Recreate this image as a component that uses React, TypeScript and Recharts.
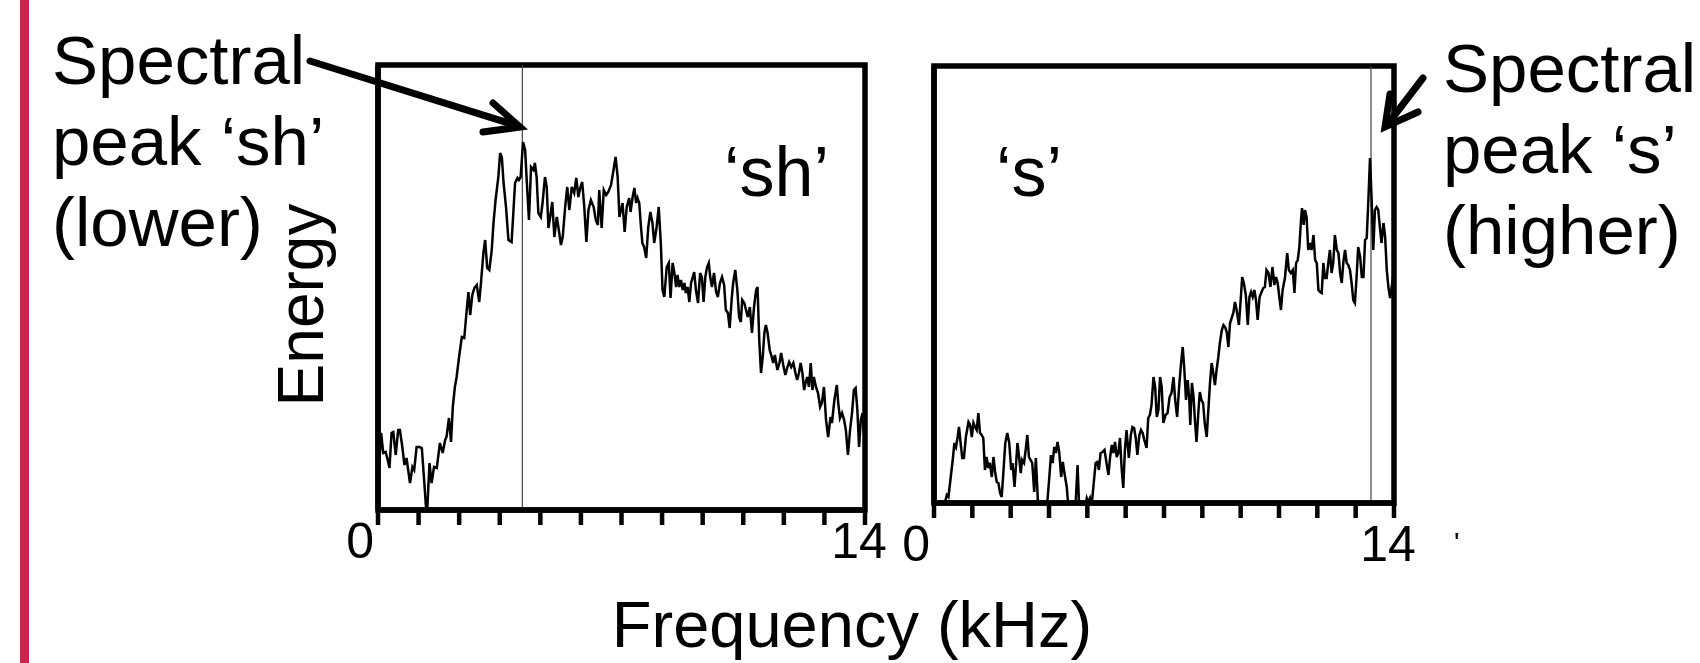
import React from "react";
import {
  LineChart,
  Line,
  XAxis,
  YAxis,
  ReferenceLine,
  ReferenceArea,
} from "recharts";

const FONT = '"Liberation Sans", Arial, Helvetica, sans-serif';

// x ticks: 12 equal steps across 0..14 kHz, only the ends are labelled
const X_TICKS = [0, 1.1667, 2.3333, 3.5, 4.6667, 5.8333, 7, 8.1667, 9.3333, 10.5, 11.6667, 12.8333, 14];
const X_LABELS: Record<number, string> = { 0: "0", 14: "14" };

// 'sh' spectrum (kHz, energy in arbitrary units)
const SH_FREQ = [
  0, 0.09, 0.15, 0.22, 0.28, 0.33, 0.39, 0.44, 0.51, 0.58, 0.63, 0.7, 0.76, 0.82, 0.92, 0.99, 1.04, 1.11, 1.19, 1.26,
  1.32, 1.38, 1.42, 1.48, 1.54, 1.61, 1.69, 1.78, 1.86, 1.93, 1.97, 2.04, 2.1, 2.15, 2.21, 2.26, 2.33, 2.41, 2.48, 2.55,
  2.6, 2.65, 2.71, 2.77, 2.84, 2.91, 2.96, 3.03, 3.08, 3.14, 3.2, 3.27, 3.32, 3.38, 3.46, 3.51, 3.56, 3.61, 3.68, 3.75,
  3.84, 3.89, 3.94, 4.01, 4.05, 4.1, 4.17, 4.23, 4.27, 4.34, 4.4, 4.47, 4.51, 4.56, 4.61, 4.68, 4.73, 4.8, 4.85, 4.9,
  4.95, 5.01, 5.07, 5.14, 5.19, 5.26, 5.31, 5.38, 5.44, 5.5, 5.57, 5.64, 5.7, 5.76, 5.82, 5.87, 5.93, 5.99, 6.05, 6.12,
  6.2, 6.26, 6.32, 6.36, 6.43, 6.49, 6.56, 6.62, 6.7, 6.78, 6.83, 6.89, 6.94,
  7.03, 7.09, 7.15, 7.22, 7.26, 7.32, 7.37, 7.42, 7.46, 7.51, 7.56, 7.6, 7.65, 7.71, 7.77, 7.83, 7.89, 7.94, 8.01, 8.07,
  8.13, 8.18, 8.23, 8.3, 8.36, 8.41, 8.47, 8.52, 8.57, 8.61, 8.66, 8.71, 8.76, 8.81, 8.85, 8.9, 8.95, 9.0, 9.05, 9.09,
  9.14, 9.2, 9.26, 9.31, 9.36, 9.41, 9.46, 9.51, 9.55, 9.6, 9.66, 9.72, 9.77, 9.83, 9.89, 9.95, 10.0, 10.06, 10.11, 10.17,
  10.21, 10.27, 10.33, 10.38, 10.43, 10.47, 10.53, 10.58, 10.63, 10.69, 10.75, 10.81, 10.87, 10.91, 10.96, 11.01, 11.06, 11.11, 11.15, 11.2,
  11.26, 11.32, 11.36, 11.41, 11.48, 11.54, 11.59, 11.65, 11.71, 11.77, 11.82, 11.88, 11.94, 12.0, 12.05, 12.1, 12.15, 12.2, 12.25, 12.29,
  12.34, 12.39, 12.44, 12.49, 12.53, 12.59, 12.65, 12.71, 12.76, 12.82, 12.88, 12.94, 13.01, 13.05, 13.12, 13.19, 13.23, 13.28, 13.34, 13.4,
  13.45, 13.51, 13.57, 13.63, 13.68, 13.73, 13.78, 13.83, 13.88, 13.93, 13.97,
];
const SH_ENERGY = [
  2.7, 7.7, 5.7, 5.8, 5.0, 4.2, 7.7, 7.8, 5.5, 8.0, 8.0, 6.3, 4.5, 5.2, 2.7, 4.3, 4.0, 6.3, 6.3, 6.2,
  3.3, 0.3, 0.3, 4.7, 2.7, 4.3, 4.2, 6.7, 5.7, 7.0, 7.3, 9.2, 6.8, 10.3, 12.3, 13.3, 15.3, 17.3, 17.2, 20.0,
  21.8, 19.5, 21.5, 22.2, 22.5, 20.8, 22.7, 25.7, 27.0, 24.2, 24.0, 26.0, 28.7, 31.0, 33.3, 35.7, 35.3, 32.7, 30.3, 27.0,
  26.8, 29.7, 32.7, 33.2, 33.0, 33.3, 36.8, 36.0, 33.3, 29.0, 34.3, 34.0, 34.7, 33.3, 29.7, 29.3, 30.7, 33.3, 32.3, 28.2,
  29.3, 30.8, 27.3, 29.3, 28.2, 26.5, 27.3, 30.3, 32.3, 30.0, 32.3, 31.7, 33.2, 31.3, 32.3, 32.8, 30.3, 26.8, 30.0, 31.0,
  30.3, 29.0, 28.5, 32.0, 28.2, 32.0, 31.5, 31.8, 32.5, 34.2, 35.3, 33.3, 29.3,
  30.7, 27.8, 30.3, 31.2, 29.8, 31.3, 32.2, 30.7, 31.2, 30.7, 28.3, 26.7, 26.3, 25.2, 28.3, 29.8, 28.7, 26.7, 28.3, 30.3,
  26.7, 22.0, 21.3, 24.3, 24.7, 21.2, 24.7, 23.7, 22.3, 23.5, 22.3, 23.0, 22.0, 22.7, 21.7, 22.3, 20.8, 22.7, 23.3, 23.8,
  22.0, 20.7, 23.7, 23.3, 20.8, 23.3, 24.3, 24.7, 23.3, 22.3, 23.7, 21.8, 21.3, 22.7, 23.3, 22.5, 20.0, 19.7, 18.2, 21.2,
  22.7, 24.0, 22.0, 19.3, 18.8, 21.0, 20.7, 20.0, 19.3, 20.3, 17.7, 20.3, 22.0, 22.3, 17.0, 13.7, 15.3, 17.8, 18.5, 17.7,
  16.0, 15.3, 14.7, 15.5, 14.0, 14.7, 15.7, 14.5, 13.5, 14.3, 14.8, 14.3, 14.7, 13.7, 13.0, 13.7, 14.7, 13.7, 12.0, 12.7,
  13.3, 12.3, 14.7, 12.0, 13.3, 12.3, 11.7, 10.3, 10.7, 12.3, 9.0, 7.3, 9.3, 8.7, 11.0, 12.5, 10.7, 9.2, 9.7, 9.0,
  8.0, 5.5, 8.0, 9.8, 12.0, 12.2, 10.0, 6.3, 9.0, 9.7, 7.7,
];

// 's' spectrum
const S_FREQ = [
  0, 0.33, 0.39, 0.44, 0.51, 0.57, 0.62, 0.67, 0.72, 0.76, 0.81, 0.86, 0.91, 0.97, 1.05, 1.1, 1.15, 1.2, 1.25, 1.3,
  1.35, 1.4, 1.45, 1.5, 1.55, 1.6, 1.65, 1.7, 1.76, 1.81, 1.86, 1.91, 1.96, 2.01, 2.06, 2.11, 2.17, 2.23, 2.29, 2.35,
  2.39, 2.45, 2.5, 2.54, 2.59, 2.64, 2.68, 2.74, 2.79, 2.84, 2.89, 2.94, 2.99, 3.05, 3.1, 3.16, 3.21, 3.43, 3.51, 3.56,
  3.61, 3.66, 3.71, 3.76, 3.81, 3.87, 3.92, 3.97, 4.04, 4.09, 4.3, 4.37, 4.42, 4.6, 4.65, 4.7, 4.75, 4.8, 4.85, 4.92,
  4.97, 5.02, 5.07, 5.13, 5.19, 5.26, 5.31, 5.36, 5.41, 5.46, 5.51, 5.56, 5.61, 5.66, 5.71, 5.76, 5.81, 5.86, 5.93, 5.99,
  6.04, 6.09, 6.14, 6.19, 6.25, 6.3, 6.35, 6.4, 6.47, 6.52, 6.57, 6.62, 6.68, 6.73, 6.78, 6.83, 6.88, 6.93, 6.98,
  7.05, 7.11, 7.17, 7.23, 7.29, 7.34, 7.4, 7.46, 7.52, 7.57, 7.62, 7.67, 7.72, 7.77, 7.8, 7.85, 7.9, 7.94, 7.99, 8.05,
  8.09, 8.14, 8.19, 8.24, 8.3, 8.35, 8.4, 8.45, 8.5, 8.55, 8.6, 8.65, 8.7, 8.76, 8.81, 8.86, 8.91, 8.96, 9.01, 9.06,
  9.11, 9.16, 9.21, 9.28, 9.34, 9.38, 9.43, 9.49, 9.55, 9.6, 9.65, 9.7, 9.75, 9.8, 9.85, 9.91, 9.97, 10.02, 10.07, 10.12,
  10.18, 10.24, 10.3, 10.36, 10.41, 10.46, 10.51, 10.56, 10.61, 10.68, 10.75, 10.8, 10.86, 10.92, 10.97, 11.02, 11.07, 11.12, 11.17, 11.2,
  11.25, 11.29, 11.34, 11.39, 11.44, 11.49, 11.55, 11.6, 11.65, 11.7, 11.75, 11.8, 11.85, 11.9, 11.95, 12.0, 12.05, 12.1, 12.15, 12.2,
  12.26, 12.31, 12.36, 12.41, 12.46, 12.51, 12.56, 12.61, 12.66, 12.71, 12.76, 12.81, 12.86, 12.91, 12.97, 13.02, 13.07, 13.12, 13.17, 13.22,
  13.27, 13.32, 13.37, 13.42, 13.47, 13.52, 13.57, 13.62, 13.68, 13.73, 13.78, 13.83, 13.88, 13.93, 13.98,
];
const S_ENERGY = [
  -2, 0.0, 0.8, 0.6, 2.6, 4.3, 6.0, 5.6, 6.6, 7.6, 6.0, 4.5, 4.5, 6.6, 8.1, 7.8, 6.6, 8.0, 7.6, 7.3,
  9.0, 7.0, 6.8, 6.5, 3.3, 4.6, 3.5, 4.0, 2.6, 4.6, 3.1, 2.1, 2.0, 1.0, 0.6, 3.0, 6.0, 7.0, 6.0, 3.3,
  4.0, 1.6, 4.0, 6.0, 4.6, 3.0, 4.3, 4.0, 5.3, 6.8, 4.6, 4.3, 4.0, 1.1, 4.5, 0.3, -0.7, -0.7, 2.6, 4.8,
  4.0, 5.6, 5.0, 6.1, 5.1, 2.6, 4.1, 3.0, 1.6, -0.4, -0.7, 3.8, -0.7, -0.5, 0.5, 0.1, 0.5, -0.2, 1.6, 4.0,
  4.1, 3.3, 5.0, 5.1, 5.3, 3.8, 2.8, 4.6, 5.8, 5.0, 6.1, 4.6, 5.0, 6.5, 3.5, 1.5, 5.3, 7.3, 4.5, 6.8,
  7.6, 7.5, 6.5, 4.8, 6.8, 7.3, 7.0, 6.3, 5.5, 8.5, 8.8, 9.8, 12.6, 11.6, 8.6, 9.3, 12.6, 11.6, 8.0,
  8.8, 9.0, 10.6, 11.0, 12.6, 10.3, 8.6, 11.6, 14.0, 15.6, 13.3, 10.3, 12.3, 10.3, 7.8, 12.0, 10.6, 8.3, 6.1, 9.3,
  11.1, 10.3, 10.0, 8.0, 6.6, 9.3, 12.0, 14.0, 13.0, 11.8, 13.3, 14.5, 16.0, 17.3, 17.8, 17.6, 17.1, 15.6, 18.0, 18.5,
  19.0, 20.1, 19.3, 17.8, 20.6, 22.6, 22.0, 20.8, 17.8, 20.6, 21.1, 20.6, 21.3, 20.3, 18.3, 20.6, 21.1, 21.5, 21.6, 23.3,
  23.0, 21.6, 23.6, 21.8, 22.6, 22.0, 20.6, 19.3, 21.3, 22.5, 25.0, 23.3, 23.0, 23.3, 21.0, 24.0, 24.3, 25.6, 28.3, 29.5,
  27.8, 29.3, 28.6, 25.3, 26.0, 25.3, 26.8, 24.3, 24.0, 21.3, 21.1, 21.0, 24.0, 22.5, 22.5, 24.0, 25.3, 23.0, 24.0, 26.8,
  25.3, 25.0, 23.0, 22.0, 24.1, 25.3, 24.0, 23.8, 23.3, 22.0, 20.3, 20.0, 22.5, 25.6, 24.6, 22.6, 22.6, 26.3, 26.5, 30.3,
  34.5, 30.3, 25.3, 29.3, 29.6, 29.3, 27.6, 26.0, 28.0, 26.6, 23.3, 21.6, 20.5, 21.6, 22.8,
];

const SH_PEAK = 4.15;
const S_PEAK = 13.3;

const SH_Y_TICKS = [4.8, 24.7, 44.5];
const S_Y_TICKS = [4.7, 24.2, 43.7];

type PanelProps = {
  freq: number[];
  energy: number[];
  peak: number;
  yMax: number;
  yTicks: number[];
  width: number;
  height: number;
  top: number;
  labelDy: number;
};

function SpectrumPanel({ freq, energy, peak, yMax, yTicks, width, height, top, labelDy }: PanelProps) {
  const data = freq.map((f, i) => ({ f, e: energy[i] }));

  const renderTick = (props: any) => {
    const { x, y, payload } = props;
    const label = X_LABELS[payload.value];
    if (!label) return <g />;
    const isZero = payload.value === 0;
    return (
      <text
        x={isZero ? x - 4 : x - 6}
        y={y + labelDy}
        textAnchor={isZero ? "end" : "middle"}
        fontFamily={FONT}
        fontSize={50}
        fill="#000"
      >
        {label}
      </text>
    );
  };

  return (
    <LineChart width={width} height={height} data={data} margin={{ top, right: 35, bottom: 0, left: 0 }}>
      <XAxis
        type="number"
        dataKey="f"
        domain={[0, 14]}
        ticks={X_TICKS}
        interval={0}
        allowDataOverflow
        height={80}
        tickSize={15}
        axisLine={{ stroke: "#000", strokeWidth: 5.5 }}
        tickLine={{ stroke: "#000", strokeWidth: 4.5 }}
        tick={renderTick}
      />
      <YAxis
        type="number"
        domain={[0, yMax]}
        ticks={yTicks}
        allowDataOverflow
        width={78}
        tickSize={14}
        tick={false}
        axisLine={{ stroke: "#000", strokeWidth: 5.5 }}
        tickLine={{ stroke: "#000", strokeWidth: 4 }}
      />
      <ReferenceArea
        x1={0}
        x2={14}
        y1={0}
        y2={yMax}
        fill="none"
        fillOpacity={0}
        stroke="#000"
        strokeWidth={5.5}
        ifOverflow="visible"
      />
      <ReferenceLine x={peak} stroke="#444" strokeWidth={1.2} />
      <Line
        type="linear"
        dataKey="e"
        stroke="#000"
        strokeWidth={2.5}
        dot={false}
        isAnimationActive={false}
      />
    </LineChart>
  );
}

export default function App() {
  const textStyle = { fontFamily: FONT, fill: "#000" };
  return (
    <div
      style={{
        position: "absolute",
        left: 0,
        top: 0,
        width: 1700,
        height: 663,
        background: "#fff",
        overflow: "hidden",
      }}
    >
      <div style={{ position: "absolute", left: 300, top: 40 }}>
        <SpectrumPanel
          freq={SH_FREQ}
          energy={SH_ENERGY}
          peak={SH_PEAK}
          yMax={44.5}
          yTicks={SH_Y_TICKS}
          width={600}
          height={550}
          top={25}
          labelDy={31}
        />
      </div>
      <div style={{ position: "absolute", left: 856, top: 40 }}>
        <SpectrumPanel
          freq={S_FREQ}
          energy={S_ENERGY}
          peak={S_PEAK}
          yMax={43.7}
          yTicks={S_Y_TICKS}
          width={573}
          height={543}
          top={26}
          labelDy={41}
        />
      </div>

      <svg
        width={1700}
        height={663}
        style={{ position: "absolute", left: 0, top: 0, pointerEvents: "none" }}
      >
        <rect x={20} y={0} width={9} height={663} fill="#c8234a" />

        <g style={textStyle} fontSize={69}>
          <text x={52} y={84}>Spectral</text>
          <text x={52} y={165}>peak ‘sh’</text>
          <text x={52} y={246}>(lower)</text>
          <text x={1443} y={92}>Spectral</text>
          <text x={1443} y={173}>peak ‘s’</text>
          <text x={1443} y={254}>(higher)</text>
        </g>

        <text x={724} y={196} fontSize={70} style={textStyle}>‘sh’</text>
        <text x={996} y={196} fontSize={70} style={textStyle}>‘s’</text>

        <text
          x={323}
          y={305}
          fontSize={64}
          textAnchor="middle"
          transform="rotate(-90 323 305)"
          style={textStyle}
        >
          Energy
        </text>
        <text x={852} y={647} fontSize={65} textAnchor="middle" style={textStyle}>
          Frequency (kHz)
        </text>
        <text x={1454} y={552} fontSize={28} style={textStyle}>'</text>

        {/* arrows */}
        <g stroke="#000" strokeWidth={7} fill="none" strokeLinecap="round">
          <line x1={310} y1={61} x2={518} y2={126} />
          <polyline points="493,103 520,127 483,132" strokeLinejoin="miter" />
          <line x1={1423} y1={78} x2={1387} y2={125} />
          <polyline points="1390,94 1385,127 1418,112" strokeLinejoin="miter" />
        </g>
      </svg>
    </div>
  );
}
